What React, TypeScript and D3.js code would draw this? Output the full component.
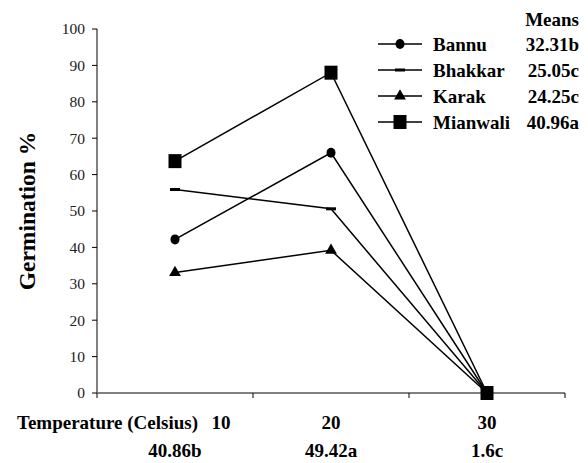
import * as d3 from "d3";

const width = 588;
const height = 463;

// temperature categories (Celsius)
const categories = ["10", "20", "30"];
const tempMeans = ["40.86b", "49.42a", "1.6c"];

// germination % by site
const sites = ["Bannu", "Bhakkar", "Karak", "Mianwali"];
const bannu = [42.2, 66.0, 0];
const bhakkar = [55.9, 50.6, 0];
const karak = [33.1, 39.2, 0];
const mianwali = [63.7, 88.0, 0];
const siteMeans = ["32.31b", "25.05c", "24.25c", "40.96a"];

const yTicks = [0, 10, 20, 30, 40, 50, 60, 70, 80, 90, 100];

const seriesValues = [bannu, bhakkar, karak, mianwali];
const markerKind = ["circle", "dash", "triangle", "square"];

const x = d3.scaleBand().domain(categories).range([97, 565]);
const y = d3.scaleLinear().domain([0, 100]).range([393, 29]);
const cx = (c: string) => (x(c) as number) + x.bandwidth() / 2;

const line = d3
  .line<number>()
  .x((_, i) => cx(categories[i]))
  .y((d) => y(d));

const serif =
  "Liberation Serif, Times New Roman, Times, Tinos, Nimbus Roman, Noto Serif, DejaVu Serif, FreeSerif, serif";
const boldText = { fontFamily: serif, fontWeight: 700, fontSize: 19 };

const Marker = ({ kind, px, py }: { kind: string; px: number; py: number }) => {
  if (kind === "circle") return <ellipse cx={px} cy={py} rx={4.5} ry={5} fill="#000" />;
  if (kind === "dash") return <rect x={px - 5} y={py - 1.5} width={10} height={3} fill="#000" />;
  if (kind === "triangle") {
    const tri = d3.symbol().type(d3.symbolTriangle).size(60);
    return <path d={tri() as string} transform={`translate(${px},${py})`} fill="#000" />;
  }
  return <rect x={px - 6.5} y={py - 7} width={13} height={14} fill="#000" />;
};

const App = () => {
  return (
    <svg
      width={width}
      height={height}
      style={{ position: "absolute", left: 0, top: 0, background: "#fff" }}
    >
      {/* y axis */}
      <line x1={97} x2={97} y1={y(100)} y2={y(0)} stroke="#000" strokeWidth={1} />
      {yTicks.map((t) => (
        <g key={t}>
          <line x1={92} x2={97} y1={y(t)} y2={y(t)} stroke="#000" />
          <text
            x={85}
            y={y(t)}
            dy="0.35em"
            textAnchor="end"
            style={{ fontFamily: serif, fontSize: 15.5, fill: "#222" }}
          >
            {t}
          </text>
        </g>
      ))}
      <text
        transform={`translate(35,${y(50)}) rotate(-90)`}
        textAnchor="middle"
        style={{ ...boldText, fontSize: 23.5 }}
      >
        Germination %
      </text>

      {/* x axis */}
      <line x1={97} x2={565} y1={y(0)} y2={y(0)} stroke="#808080" strokeWidth={2} />
      {[...categories.map((c) => x(c) as number), 565].map((v, i) => (
        <line key={i} x1={v} x2={v} y1={y(0)} y2={y(0) + 5} stroke="#000" />
      ))}
      <text x={198} y={422} dy="0.35em" textAnchor="end" style={boldText}>
        Temperature (Celsius)
      </text>
      {categories.map((c, i) => (
        <g key={c}>
          <text
            x={i === 0 ? cx(c) + 46 : cx(c)}
            y={422}
            dy="0.35em"
            textAnchor="middle"
            style={boldText}
          >
            {c}
          </text>
          <text x={cx(c)} y={450} dy="0.35em" textAnchor="middle" style={boldText}>
            {tempMeans[i]}
          </text>
        </g>
      ))}

      {/* series */}
      {seriesValues.map((vals, s) => (
        <g key={sites[s]}>
          <path d={line(vals) as string} fill="none" stroke="#000" strokeWidth={1.5} />
          {vals.map((v, i) => (
            <Marker key={i} kind={markerKind[s]} px={cx(categories[i])} py={y(v)} />
          ))}
        </g>
      ))}

      {/* legend */}
      <text x={579} y={19} dy="0.35em" textAnchor="end" style={boldText}>
        Means
      </text>
      {sites.map((name, s) => {
        const ly = 44 + s * 26;
        return (
          <g key={name}>
            <line x1={378} x2={422} y1={ly} y2={ly} stroke="#000" strokeWidth={1.5} />
            <Marker kind={markerKind[s]} px={400} py={ly} />
            <text x={433} y={ly} dy="0.35em" style={boldText}>
              {name}
            </text>
            <text x={579} y={ly} dy="0.35em" textAnchor="end" style={boldText}>
              {siteMeans[s]}
            </text>
          </g>
        );
      })}
    </svg>
  );
};

export default App;
